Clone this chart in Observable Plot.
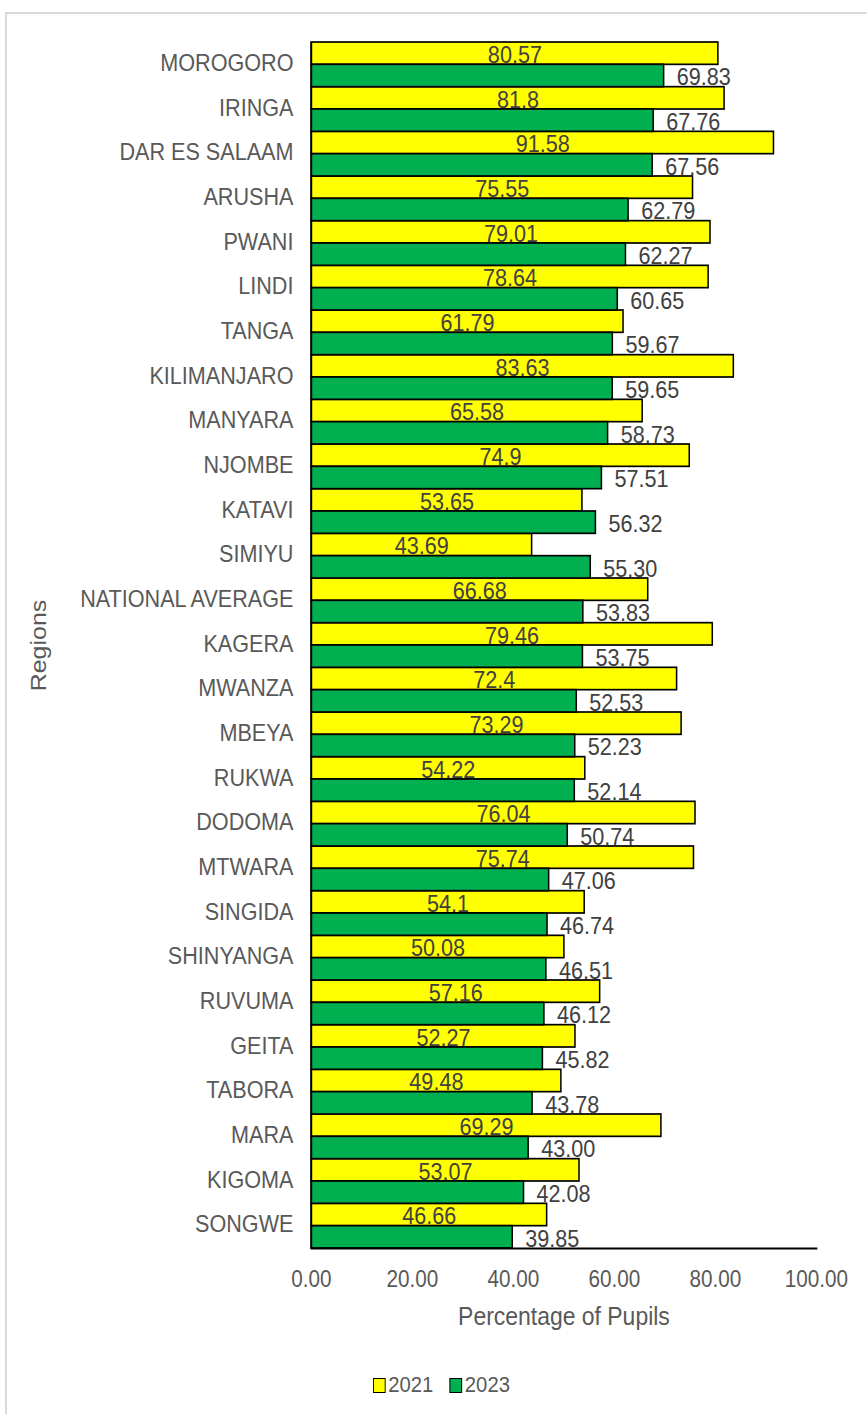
<!DOCTYPE html>
<html><head><meta charset="utf-8">
<script src="https://cdn.jsdelivr.net/npm/d3@7"></script>
<script src="https://cdn.jsdelivr.net/npm/@observablehq/plot@0.6"></script>
<style>
html,body{margin:0;padding:0;background:#fff;width:867px;height:1414px;overflow:hidden;}
#frame{position:absolute;left:5px;top:12px;width:900px;height:1500px;border:2px solid #d9d9d9;box-sizing:border-box}
#chart{position:absolute;left:0;top:0;width:1000px}
#chart svg{max-width:none!important;height:1340px!important;transform:scaleX(0.9);transform-origin:0 0}
#legend{position:absolute;top:1373px;left:373px;display:flex;align-items:center;font-family:"Liberation Sans",Arial,sans-serif;font-size:22.5px;color:#595959;line-height:24px;transform:scaleX(0.9);transform-origin:0 0;white-space:nowrap}
.sw{display:inline-block;width:12px;height:13px;border:1.6px solid #000;margin-right:3px}
.item{display:flex;align-items:center;margin-right:18px}
</style></head>
<body><div id="frame"></div><div id="chart"></div><div id="legend"></div>
<script>
const regions = ["MOROGORO","IRINGA","DAR ES SALAAM","ARUSHA","PWANI","LINDI","TANGA","KILIMANJARO","MANYARA","NJOMBE","KATAVI","SIMIYU","NATIONAL AVERAGE","KAGERA","MWANZA","MBEYA","RUKWA","DODOMA","MTWARA","SINGIDA","SHINYANGA","RUVUMA","GEITA","TABORA","MARA","KIGOMA","SONGWE"];
const labels2021 = ["80.57","81.8","91.58","75.55","79.01","78.64","61.79","83.63","65.58","74.9","53.65","43.69","66.68","79.46","72.4","73.29","54.22","76.04","75.74","54.1","50.08","57.16","52.27","49.48","69.29","53.07","46.66"];
const labels2023 = ["69.83","67.76","67.56","62.79","62.27","60.65","59.67","59.65","58.73","57.51","56.32","55.30","53.83","53.75","52.53","52.23","52.14","50.74","47.06","46.74","46.51","46.12","45.82","43.78","43.00","42.08","39.85"];
const values2021 = labels2021.map(Number);
const values2023 = labels2023.map(Number);
const years = ["2021", "2023"];
const yearColors = ["#FFFF00", "#00B050"];
const xTicks = [0, 20, 40, 60, 80, 100];

const font = '"Liberation Sans", Arial, sans-serif';
const rows2021 = regions.map((r, i) => ({region: r, value: values2021[i], label: labels2021[i]}));
const rows2023 = regions.map((r, i) => ({region: r, value: values2023[i], label: labels2023[i]}));

// horizontal squeeze applied to the whole SVG by CSS
const S = 0.9;
const W = 867 / S, H = 1340, mT = 42, mB = 92, mL = 311 / S, mR = 51 / S;
const bw = (H - mT - mB) / regions.length;

const chart = Plot.plot({
  width: W, height: H,
  marginTop: mT, marginBottom: mB, marginLeft: mL, marginRight: mR,
  style: {fontFamily: font, color: "#595959", background: "transparent", overflow: "visible"},
  x: {domain: [0, 100], ticks: xTicks, tickFormat: d => d.toFixed(2)},
  y: {domain: regions, paddingInner: 0, paddingOuter: 0, round: false},
  marks: [
    Plot.barX(rows2021, {x: "value", y: "region", fill: yearColors[0], stroke: "#000", strokeWidth: 1.7, insetBottom: bw / 2}),
    Plot.barX(rows2023, {x: "value", y: "region", fill: yearColors[1], stroke: "#000", strokeWidth: 1.7, insetTop: bw / 2}),
    Plot.ruleX([0], {stroke: "#000", strokeWidth: 1.7}),
    Plot.frame({anchor: "bottom", stroke: "#000", strokeWidth: 2}),
    Plot.text(rows2021, {x: d => d.value / 2, y: "region", text: "label", dy: -bw / 4 + 1.5, fill: "#404040", fontSize: 24}),
    Plot.text(rows2023, {x: "value", y: "region", text: "label", dx: 14, dy: bw / 4 + 1.5, textAnchor: "start", fill: "#404040", fontSize: 24}),
    Plot.axisY({tickSize: 0, tickPadding: 20, fontSize: 24, dy: -1.5, label: null}),
    Plot.axisX({ticks: xTicks, tickFormat: d => d.toFixed(2), tickSize: 0, tickPadding: 22, fontSize: 23, label: null}),
    Plot.text(["Percentage of Pupils"], {frameAnchor: "bottom", lineAnchor: "middle", dy: 68, fontSize: 25.5, fill: "#595959"}),
    Plot.text(["Regions"], {frameAnchor: "left", textAnchor: "middle", lineAnchor: "middle", dx: -(311 - 38) / S, rotate: -90, fontSize: 25, fill: "#595959"})
  ]
});
document.getElementById("chart").appendChild(chart);

const legend = document.getElementById("legend");
years.forEach((y, i) => {
  const item = document.createElement("span");
  item.className = "item";
  const sw = document.createElement("span");
  sw.className = "sw";
  sw.style.background = yearColors[i];
  item.appendChild(sw);
  item.appendChild(document.createTextNode(y));
  legend.appendChild(item);
});
</script>
</body></html>
